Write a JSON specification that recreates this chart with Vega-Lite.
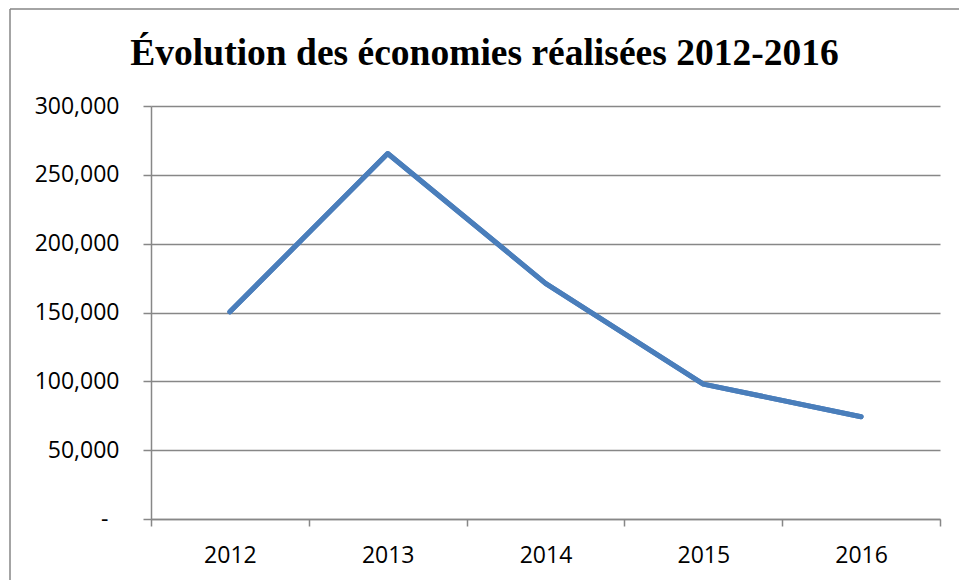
{
  "$schema": "https://vega.github.io/schema/vega-lite/v6.json",
  "width": 949,
  "height": 571,
  "autosize": {"type": "none"},
  "padding": {"left": 10, "top": 9, "right": 0, "bottom": 0},
  "background": "white",
  "config": {
    "view": {"stroke": "#878787", "strokeWidth": 1.5, "fill": "white", "strokeDash": [949, 1520, 571, 0]}
  },
  "title": {
    "text": "Évolution des économies réalisées 2012-2016",
    "font": "Liberation Serif",
    "fontSize": 37.5,
    "fontWeight": "bold",
    "color": "#000000",
    "anchor": "middle",
    "frame": "group",
    "baseline": "alphabetic",
    "offset": -93
  },
  "data": {
    "values": [
      {"year": 2012, "savings": 150500},
      {"year": 2013, "savings": 265500},
      {"year": 2014, "savings": 171200},
      {"year": 2015, "savings": 98000},
      {"year": 2016, "savings": 74300}
    ]
  },
  "layer": [
    {
      "mark": {
        "type": "line",
        "color": "#4a7ebb",
        "strokeWidth": 5,
        "strokeCap": "round",
        "strokeJoin": "round"
      },
      "encoding": {
        "x": {
          "field": "year",
          "type": "quantitative",
          "scale": {"domain": [2011.5, 2016.5], "range": [141, 930], "nice": false, "zero": false},
          "axis": {
            "title": null,
            "orient": "bottom",
            "offset": -61,
            "grid": false,
            "values": [2011.5, 2012, 2012.5, 2013, 2013.5, 2014, 2014.5, 2015, 2015.5, 2016, 2016.5],
            "labelExpr": "datum.value % 1 === 0 ? '' + datum.value : ''",
            "labelOverlap": false,
            "labelFlush": false,
            "labelFont": "Open Sans",
            "labelFontSize": 23,
            "labelColor": "#000000",
            "labelPadding": 18,
            "tickSize": 7,
            "tickWidth": 1.5,
            "tickColor": "#878787",
            "tickOpacity": {"condition": {"test": "datum.value % 1 === 0", "value": 0}, "value": 1},
            "domainColor": "#878787",
            "domainWidth": 1.5
          }
        },
        "y": {
          "field": "savings",
          "type": "quantitative",
          "scale": {"domain": [0, 300000], "range": [510, 97], "nice": false, "zero": true},
          "axis": {
            "title": null,
            "orient": "left",
            "offset": -141,
            "values": [0, 50000, 100000, 150000, 200000, 250000, 300000],
            "labelExpr": "datum.value === 0 ? '' : format(datum.value, ',')",
            "labelFont": "Open Sans",
            "labelFontSize": 23,
            "labelColor": "#000000",
            "labelPadding": 24,
            "tickSize": 8,
            "tickWidth": 1.5,
            "tickColor": "#878787",
            "domainColor": "#878787",
            "domainWidth": 1.5,
            "grid": true,
            "gridColor": "#878787",
            "gridWidth": 1.5,
            "gridOpacity": 1
          }
        }
      }
    },
    {
      "mark": {
        "type": "line",
        "color": "#4a7ebb",
        "strokeWidth": 5,
        "strokeCap": "round",
        "strokeJoin": "round"
      },
      "encoding": {
        "x": {"field": "year", "type": "quantitative"},
        "y": {
          "field": "savings",
          "type": "quantitative",
          "axis": {
            "title": null,
            "orient": "left",
            "offset": -141,
            "values": [0],
            "labelExpr": "'-'",
            "labelFont": "Open Sans",
            "labelFontSize": 23,
            "labelColor": "#000000",
            "labelPadding": 43,
            "ticks": false,
            "domain": false,
            "grid": false
          }
        }
      }
    }
  ],
  "resolve": {"axis": {"y": "independent"}}
}
